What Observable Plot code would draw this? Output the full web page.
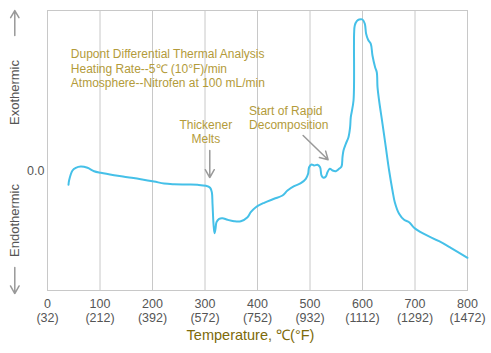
<!DOCTYPE html>
<html>
<head>
<meta charset="utf-8">
<script src="https://cdn.jsdelivr.net/npm/d3@7"></script>
<script src="https://cdn.jsdelivr.net/npm/@observablehq/plot@0.6"></script>
<style>
  html, body { margin: 0; padding: 0; background: #fff; }
  #chart { width: 491px; height: 353px; }
</style>
</head>
<body>
<div id="chart"></div>
<script>
// Temperature (°C) of the DTA trace
const temperatureC = [40.0, 41.1, 47.6, 53.9, 63.4, 76.2, 88.8, 101.5, 126.9, 152.4, 177.7, 203.0, 222.1, 241.1, 266.7, 285.7, 301.5, 309.7, 313.0, 314.3, 316.2, 318.1, 320.0, 321.9, 326.9, 333.3, 342.9, 355.4, 368.2, 381.0, 387.2, 396.8, 412.6, 431.6, 447.6, 457.1, 469.7, 482.5, 492.0, 496.4, 498.3, 502.9, 507.8, 514.3, 519.2, 521.9, 525.7, 530.1, 533.3, 537.7, 542.9, 549.1, 555.4, 560.0, 561.9, 563.8, 568.2, 573.3, 576.4, 577.7, 582.9, 584.0, 585.3, 589.1, 593.5, 600.0, 604.4, 606.9, 610.7, 615.8, 619.0, 624.0, 627.2, 628.6, 631.6, 638.1, 644.4, 650.7, 657.1, 661.5, 669.7, 679.2, 688.8, 698.3, 714.3, 745.9, 768.2, 800];
// Differential signal (arbitrary units, 0.0 = baseline)
const signal = [-1.43, -1.0, 0, 0.27, 0.4, 0.27, -0.07, -0.23, -0.47, -0.67, -0.87, -1.1, -1.3, -1.37, -1.4, -1.43, -1.53, -1.73, -2.17, -3.33, -5.33, -6.27, -5.83, -5.17, -4.83, -4.77, -4.93, -5.07, -5.07, -4.67, -4.17, -3.67, -3.23, -2.83, -2.5, -2.0, -1.57, -1.27, -0.83, -0.33, 0.33, 0.6, 0.5, 0.57, 0.33, -0.5, -0.73, -0.6, -0.17, 0.17, 0, -0.07, 0.17, 0.4, 1.33, 2.0, 2.67, 3.33, 4.33, 5.33, 7.0, 13.67, 14.5, 14.93, 15.1, 15.1, 14.67, 13.67, 13.07, 12.67, 11.5, 10.33, 9.83, 8.33, 7.0, 4.67, 2.33, 0, -2.0, -3.17, -4.33, -4.93, -5.17, -5.73, -6.27, -7.07, -7.73, -8.73];

// Axis ticks
const ticksC = [0, 100, 200, 300, 400, 500, 600, 700, 800];
const ticksF = ["32", "212", "392", "572", "752", "932", "1112", "1292", "1472"];
const yTicks = [0];
const yTickLabels = ["0.0"];

// Text
const xTitle = "Temperature, ℃(°F)";
const infoText = ["Dupont Differential Thermal Analysis", "Heating Rate--5℃ (10°F)/min", "Atmosphere--Nitrofen at 100 mL/min"];
const meltNote = [{x: 301.5, y: 3.9, text: "Thickener\nMelts"}];
const decompNote = [{x: 384, y: 5.28, text: "Start of Rapid\nDecomposition"}];
const noteArrows = [
  {x1: 309.1, y1: 2.0, x2: 309.1, y2: -0.7},
  {x1: 486.9, y1: 3.5, x2: 534.5, y2: 1.07}
];
const sideLabels = [
  {y: 7.8, text: "Exothermic"},
  {y: -5.0, text: "Endothermic"}
];
const sideArrows = [
  {x: -62.3, y1: 13.5, y2: 16.0},
  {x: -62.3, y1: -9.7, y2: -12.3}
];

const data = temperatureC.map((t, i) => ({t, v: signal[i]}));
const fLookup = new Map(ticksC.map((c, i) => [c, ticksF[i]]));
const yLookup = new Map(yTicks.map((c, i) => [c, yTickLabels[i]]));

const gold = "#b39b3a";
const gray = "#999";
const font = "Liberation Sans, Arial, sans-serif";

const chart = Plot.plot({
  width: 491,
  height: 353,
  marginLeft: 47,
  marginRight: 24,
  marginTop: 10,
  marginBottom: 63,
  style: {fontFamily: font, background: "#fff", overflow: "visible"},
  x: {domain: [0, 800]},
  y: {domain: [-12, 16]},
  marks: [
    Plot.gridX(ticksC, {stroke: "#c8c8c8", strokeOpacity: 1, strokeWidth: 1}),
    Plot.frame({stroke: "#c8c8c8", strokeWidth: 1}),
    Plot.axisX(ticksC, {
      tickSize: 0, tickPadding: 8, fontSize: 12.5, fill: "#555", lineHeight: 1.1,
      tickFormat: d => `${d}\n(${fLookup.get(d)})`, label: null
    }),
    Plot.axisY(yTicks, {
      tickSize: 0, tickPadding: 3, fontSize: 12.5, fill: "#555",
      tickFormat: d => yLookup.get(d), label: null
    }),
    Plot.line(data, {x: "t", y: "v", stroke: "#45c0e8", strokeWidth: 2, curve: "catmull-rom"}),
    Plot.text([infoText.join("\n")], {
      x: 44.4, y: 10.25, text: d => d, textAnchor: "start", fill: gold,
      fontSize: 12, lineHeight: 1.2, letterSpacing: "0.3px"
    }),
    Plot.text(meltNote, {
      x: "x", y: "y", text: "text", textAnchor: "middle", fill: gold,
      fontSize: 12, lineHeight: 1.2, letterSpacing: "0.3px"
    }),
    Plot.text(decompNote, {
      x: "x", y: "y", text: "text", textAnchor: "start", fill: gold,
      fontSize: 12, lineHeight: 1.2, letterSpacing: "0.3px"
    }),
    Plot.arrow(noteArrows, {x1: "x1", y1: "y1", x2: "x2", y2: "y2", stroke: gray, strokeWidth: 1.5, headLength: 9}),
    Plot.text(sideLabels, {
      x: -62.3, y: "y", text: "text", rotate: -90, fill: "#555", fontSize: 13
    }),
    Plot.arrow(sideArrows, {x1: "x", x2: "x", y1: "y1", y2: "y2", stroke: gray, strokeWidth: 1.5, headLength: 9}),
    Plot.text([xTitle], {
      frameAnchor: "bottom", text: d => d, dy: 49, dx: -7,
      fill: "#7d6a0a", fontSize: 14.5
    })
  ]
});
document.getElementById("chart").appendChild(chart);
</script>
</body>
</html>
